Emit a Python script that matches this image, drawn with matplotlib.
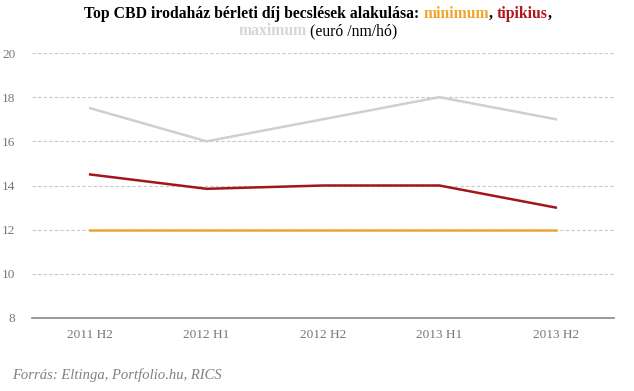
import matplotlib
matplotlib.use("Agg")
import matplotlib.pyplot as plt

categories = ["2011 H2", "2012 H1", "2012 H2", "2013 H1", "2013 H2"]
minimum = [12, 12, 12, 12, 12]
tipikius = [14.5, 13.85, 14, 14, 13]
maximum = [17.5, 16, 17, 18, 17]
yticks = [8, 10, 12, 14, 16, 18, 20]

C_MIN = "#E8A735"
C_TYP = "#A3151B"
C_MAX = "#CFCFCF"
C_TXT = "#777777"

plt.rcParams['font.family'] = ['Liberation Serif', 'DejaVu Serif']

fig = plt.figure(figsize=(6.34, 3.91), dpi=100)
ax = fig.add_axes([32/634, 1-318/391, (614-32)/634, (318-53)/391])

x = list(range(len(categories)))
ax.plot(x, maximum, color=C_MAX, lw=1.8)
ax.plot(x, minimum, color=C_MIN, lw=1.8)
ax.plot(x, tipikius, color=C_TYP, lw=1.8)

ax.set_xlim(-0.5, 4.5)
ax.set_ylim(8, 20)
ax.set_yticks(yticks)
ax.set_xticks(x)
ax.set_xticklabels(categories)
ax.tick_params(axis='both', length=0, labelsize=9.5, labelcolor=C_TXT)
ax.tick_params(axis='y', pad=12)
ax.tick_params(axis='x', pad=8)
for t in yticks[1:]:
    ax.axhline(t, color="#C8C8C8", lw=0.8, ls=(0, (3, 2)), zorder=0)
for s in ['top', 'right', 'left']:
    ax.spines[s].set_visible(False)
ax.spines['bottom'].set_color("#888888")
ax.spines['bottom'].set_linewidth(1.2)

# Title with colored parts
fs = 11.3
line1 = [("Top CBD irodaház bérleti díj becslések alakulása: ", "black"),
         ("minimum", "#F0A52C"), (", ", "black"), ("tipikius", "#B0171E"), (",", "black")]
line2 = [("maximum", "#D6D6D6", 'bold'), (" (euró /nm/hó)", "black", 'normal')]

def place(parts, y, default_weight='bold'):
    texts = []
    for p in parts:
        s, c = p[0], p[1]
        w = p[2] if len(p) > 2 else default_weight
        texts.append(fig.text(0, y, s, color=c, fontsize=fs, fontweight=w,
                              va='baseline', ha='left'))
    fig.canvas.draw()
    r = fig.canvas.get_renderer()
    widths = [t.get_window_extent(r).width for t in texts]
    total = sum(widths)
    cur = (318 - total / 2) / 634
    for t, wd in zip(texts, widths):
        t.set_x(cur)
        cur += wd / 634

place(line1, 1 - 18/391)
place(line2, 1 - 35/391)

fig.text(12/634, 1 - 379/391, "Forrás: Eltinga, Portfolio.hu, RICS", fontsize=10.5,
         style='italic', color="#808080", ha='left', va='baseline')

fig.savefig("out.png", dpi=100)
